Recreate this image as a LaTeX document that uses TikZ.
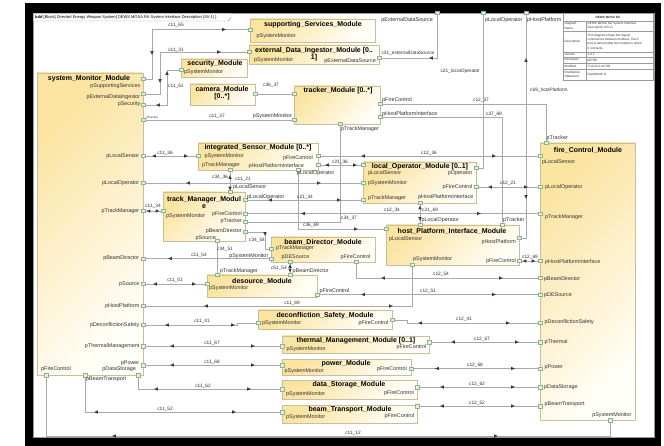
\documentclass[tikz,border=0pt]{standalone}
\usepackage{fontspec}
\setmainfont{Liberation Sans}
\usetikzlibrary{backgrounds}

\definecolor{boxA}{HTML}{FBE3A0}
\definecolor{boxB}{HTML}{FFFEF8}
\definecolor{boxline}{HTML}{C9BE9A}
\definecolor{portfill}{HTML}{E4F2E4}
\definecolor{portline}{HTML}{8CB48C}
\definecolor{connline}{HTML}{A9A9A9}
\definecolor{tipfill}{HTML}{3A3A3A}
\definecolor{labtext}{HTML}{303030}
\definecolor{frameline}{HTML}{9A9A9A}

\tikzset{
  module/.style={draw=boxline, line width=0.5pt, left color=boxA, right color=boxB, shading angle=45, inner sep=0pt},
  mtitle/.style={font=\fontsize{7}{7}\selectfont\bfseries, inner sep=0pt, align=center},
  port/.style={draw=portline, fill=portfill, line width=0.4pt, minimum size=3.4pt, inner sep=0pt},
  plab/.style={font=\fontsize{5.4}{6}\selectfont, text=labtext, inner sep=0pt},
  tinylab/.style={font=\fontsize{3}{3.5}\selectfont, text=labtext, inner sep=0pt},
  clab/.style={font=\fontsize{4.8}{5}\selectfont, text=labtext, inner sep=0pt},
  conn/.style={draw=connline, line width=0.6pt},
  flowtip/.style={fill=tipfill},
  tabline/.style={draw=frameline, line width=0.4pt},
  tabtxt/.style={font=\fontsize{3.1}{4.4}\selectfont, text=labtext, inner sep=0pt, align=left},
}

% flow direction marks placed along connectors
\newcommand\tipR[2]{\fill[flowtip] (#1+1.8,#2) -- (#1-1.8,#2-1.7) -- (#1-1.8,#2+1.7) -- cycle;}
\newcommand\tipL[2]{\fill[flowtip] (#1-1.8,#2) -- (#1+1.8,#2-1.7) -- (#1+1.8,#2+1.7) -- cycle;}
\newcommand\tipU[2]{\fill[flowtip] (#1,#2-1.8) -- (#1-1.7,#2+1.8) -- (#1+1.7,#2+1.8) -- cycle;}
\newcommand\tipD[2]{\fill[flowtip] (#1,#2+1.8) -- (#1-1.7,#2-1.8) -- (#1+1.7,#2-1.8) -- cycle;}

\begin{document}
\begin{tikzpicture}[x=1pt, y=-1pt]
\useasboundingbox (0,0) rectangle (664,446);

% ---------- outer frame ----------
\begin{pgfonlayer}{background}
  \fill[white] (0,0) rectangle (664,446);
  \fill[black] (25,3) rectangle (661,446);
  \fill[white] (33,13) rectangle (655,438);
  \draw[frameline, line width=0.4pt] (33.5,13.5) rectangle (654.5,437.5);
  \draw[frameline, line width=0.4pt, fill=white] (33.5,13.5) -- (231,13.5) -- (231,18) -- (228,21) -- (33.5,21);
\end{pgfonlayer}
\node[anchor=west, inner sep=0pt, font=\fontsize{4}{4.5}\selectfont] (hdr) at (35,17.3)
  {\textbf{bdd} [Block] Directed Energy Weapon System[ DEWS MOSA RA System Interface Description (SV-1) ]};

% ---------- info table ----------
\fill[white] (563,13) rectangle (653,80);
\draw[tabline] (563,13) rectangle (653,80);
\foreach \yy in {21,31,52,57,63,69} \draw[tabline] (563,\yy) -- (653,\yy);
\draw[tabline] (586,21) -- (586,80);
\node[tabtxt, font=\fontsize{3.1}{4.4}\selectfont\bfseries] (tabHead) at (608,17) {DEWS MOSA RA};
\node[tabtxt, anchor=west] (tabL1) at (564.5,26) {Diagram\\Name};
\node[tabtxt, anchor=west] (tabL2) at (564.5,41.5) {Description};
\node[tabtxt, anchor=west] (tabL3) at (564.5,54.5) {Version};
\node[tabtxt, anchor=west] (tabL4) at (564.5,60) {Developer};
\node[tabtxt, anchor=west] (tabL5) at (564.5,66) {Modified};
\node[tabtxt, anchor=west] (tabL6) at (564.5,74.5) {Distribution\\Statement};
\node[tabtxt, anchor=west] (tabR1) at (587.5,26) {DEWS MOSA RA System Interface\\Description (SV-1)};
\node[tabtxt, anchor=west] (tabR2) at (587.5,41.5) {This diagram shows the logical\\connections between modules. Each\\port is named after the module to which\\it connects.};
\node[tabtxt, anchor=west] (tabR3) at (587.5,54.5) {1.0.1};
\node[tabtxt, anchor=west] (tabR4) at (587.5,60) {MITRE};
\node[tabtxt, anchor=west] (tabR5) at (587.5,66) {7/11/22 2:22 PM};
\node[tabtxt, anchor=west] (tabR6) at (587.5,74.5) {Distribution D};

% ---------- modules ----------
\node[module, minimum width=106pt, minimum height=302pt] (sm) at (90,224) {};
\node[mtitle] (smT) at (89,78.5) {system\_Monitor\_Module};
\node[module, minimum width=95pt, minimum height=277pt] (fc) at (587.5,281.5) {};
\node[mtitle] (fcT) at (588,150) {fire\_Control\_Module};
\node[module, minimum width=125pt, minimum height=23pt] (ss) at (312.5,30.5) {};
\node[mtitle] (ssT) at (313,24.5) {supporting\_Services\_Module};
\node[module, minimum width=130pt, minimum height=19pt] (edi) at (314,54.5) {};
\node[mtitle] (ediT) at (314,54.5) {external\_Data\_Ingestor\_Module [0..\\{}1]};
\node[module, minimum width=66pt, minimum height=18pt] (sec) at (214,68) {};
\node[mtitle] (secT) at (215,64) {security\_Module};
\node[module, minimum width=65pt, minimum height=21pt] (cam) at (222.5,94.5) {};
\node[mtitle] (camT) at (222,93.5) {camera\_Module\\{}[0..*]};
\node[module, minimum width=86pt, minimum height=38pt] (tr) at (337,105) {};
\node[mtitle] (trT) at (338,91) {tracker\_Module [0..*]};
\node[module, minimum width=120pt, minimum height=27pt] (is) at (258,156.5) {};
\node[mtitle] (isT) at (258,147.5) {integrated\_Sensor\_Module [0..*]};
\node[module, minimum width=113pt, minimum height=41pt] (lo) at (419.5,182.5) {};
\node[mtitle] (loT) at (420,167) {local\_Operator\_Module [0..1]};
\node[module, minimum width=82pt, minimum height=49pt] (tm) at (204,216.5) {};
\node[mtitle] (tmT) at (204,202.5) {track\_Manager\_Modul\\{}e};
\node[module, minimum width=133pt, minimum height=40pt] (hp) at (452.5,245) {};
\node[mtitle] (hpT) at (452,231.5) {host\_Platform\_Interface\_Module};
\node[module, minimum width=104pt, minimum height=25pt] (bd) at (323,249.5) {};
\node[mtitle] (bdT) at (323,242) {beam\_Director\_Module};
\node[module, minimum width=110pt, minimum height=22pt] (ds) at (262,286) {};
\node[mtitle] (dsT) at (262,281.5) {desource\_Module};
\node[module, minimum width=134pt, minimum height=19pt] (dc) at (325,319.5) {};
\node[mtitle] (dcT) at (325,316) {deconfliction\_Safety\_Module};
\node[module, minimum width=147pt, minimum height=17pt] (th) at (355.5,344.5) {};
\node[mtitle] (thT) at (356,341) {thermal\_Management\_Module [0..1]};
\node[module, minimum width=129pt, minimum height=16pt] (pw) at (346.5,367) {};
\node[mtitle] (pwT) at (346,364) {power\_Module};
\node[module, minimum width=135pt, minimum height=19pt] (dst) at (349.5,389.5) {};
\node[mtitle] (dstT) at (349,385) {data\_Storage\_Module};
\node[module, minimum width=135pt, minimum height=18pt] (bt) at (349.5,414) {};
\node[mtitle] (btT) at (350,409.5) {beam\_Transport\_Module};

% ---------- ports on the system boundary ----------
\node[port] (fEDS) at (437,13) {};
\node[port] (fLO) at (483,13) {};
\node[port] (fHP) at (526,13) {};
\node[plab, anchor=east] (lfEDS) at (433,20) {pExternalDataSource};
\node[plab, anchor=west] (lfLO) at (485,20) {pLocalOperator};
\node[plab, anchor=west] (lfHP) at (527,20) {pHostPlatform};

% ---------- system_Monitor ports ----------
\node[port] (smSS) at (143,79) {};
\node[port] (smEDI) at (143,94) {};
\node[port] (smSec) at (143,105) {};
\node[port] (smTr) at (143,120) {};
\node[port] (smLS) at (143,156) {};
\node[port] (smLO) at (143,183) {};
\node[port] (smTM) at (143,211) {};
\node[port] (smBD) at (143,258.5) {};
\node[port] (smSrc) at (143,284) {};
\node[port] (smHP) at (143,306) {};
\node[port] (smDC) at (143,325) {};
\node[port] (smTh) at (143,346) {};
\node[port] (smPw) at (143,365) {};
\node[port] (smDSt) at (138,375) {};
\node[port] (smBT) at (85,375) {};
\node[port] (smFC) at (46,375) {};
\node[plab, anchor=east] (lsmSS) at (140.5,86) {pSupportingServices};
\node[plab, anchor=east] (lsmEDI) at (140.5,97.5) {pExternalDataIngestor};
\node[plab, anchor=east] (lsmSec) at (140.5,104.5) {pSecurity};
\node[tinylab, anchor=west] (lsmTr) at (146,118) {pTracker};
\node[plab, anchor=east] (lsmLS) at (139.5,156) {pLocalSensor};
\node[plab, anchor=east] (lsmLO) at (139.5,183) {pLocalOperator};
\node[plab, anchor=east] (lsmTM) at (139.5,211) {pTrackManager};
\node[plab, anchor=east] (lsmBD) at (139.5,258) {pBeamDirector};
\node[plab, anchor=east] (lsmSrc) at (139.5,284) {pSource};
\node[plab, anchor=east] (lsmHP) at (139.5,306.5) {pHostPlatform};
\node[plab, anchor=east] (lsmDC) at (139.5,325) {pDeconflictionSafety};
\node[plab, anchor=east] (lsmTh) at (139.5,346.5) {pThermalManagement};
\node[plab, anchor=east] (lsmPw) at (139.5,363) {pPower};
\node[plab, anchor=east] (lsmDSt) at (136,369) {pDataStorage};
\node[plab, anchor=west] (lsmBT) at (86,379.5) {pBeamTransport};
\node[plab, anchor=west] (lsmFC) at (41,369) {pFireControl};

% ---------- fire_Control ports ----------
\node[port] (fcTr) at (546,143) {};
\node[port] (fcLS) at (540,156) {};
\node[port] (fcLO) at (540,187) {};
\node[port] (fcTM) at (540,213.5) {};
\node[port] (fcHPI) at (540,261) {};
\node[port] (fcBD) at (540,278) {};
\node[port] (fcDES) at (540,294.5) {};
\node[port] (fcDC) at (540,323) {};
\node[port] (fcTh) at (540,342) {};
\node[port] (fcPw) at (540,368.5) {};
\node[port] (fcDSt) at (540,387) {};
\node[port] (fcBT) at (540,406) {};
\node[port] (fcSM) at (610,420) {};
\node[plab, anchor=west] (lfcTr) at (546.5,138.5) {pTracker};
\node[plab, anchor=west] (lfcLS) at (542,162) {pLocalSensor};
\node[plab, anchor=west] (lfcLO) at (545,187) {pLocalOperator};
\node[plab, anchor=west] (lfcTM) at (545,217) {pTrackManager};
\node[plab, anchor=west] (lfcHPI) at (545,262) {pHostPlatformInterface};
\node[plab, anchor=west] (lfcBD) at (544,279) {pBeamDirector};
\node[plab, anchor=west] (lfcDES) at (544,295) {pDESource};
\node[plab, anchor=west] (lfcDC) at (544.5,322) {pDeconflictionSafety};
\node[plab, anchor=west] (lfcTh) at (544.5,342) {pThermal};
\node[plab, anchor=west] (lfcPw) at (544.5,367) {pPower};
\node[plab, anchor=west] (lfcDSt) at (544,387) {pDataStorage};
\node[plab, anchor=west] (lfcBT) at (544.5,404) {pBeamTransport};
\node[plab, anchor=east] (lfcSM) at (631.5,415) {pSystemMonitor};

% ---------- ports of the other modules ----------
\node[port] (ssSM) at (250,29.5) {};
\node[plab, anchor=west] (lssSM) at (256.5,36.5) {pSystemMonitor};
\node[port] (ediSM) at (249,52) {};
\node[port] (ediEDS) at (379,58) {};
\node[plab, anchor=west] (lediSM) at (254,60) {pSystemMonitor};
\node[plab, anchor=east] (lediEDS) at (376,61) {pExternalDataSource};
\node[port] (secSM) at (181,70) {};
\node[plab, anchor=west] (lsecSM) at (184,72) {pSystemMonitor};
\node[port] (camTr) at (255,94) {};
\node[port] (trCam) at (294,94) {};
\node[port] (trSM) at (294,120) {};
\node[port] (trFC) at (380,104) {};
\node[port] (trHPI) at (380,117) {};
\node[port] (trTM) at (340,124) {};
\node[plab, anchor=east] (ltrSM) at (292,116.5) {pSystemMonitor};
\node[plab, anchor=west] (ltrFC) at (382,100) {pFireControl};
\node[plab, anchor=west] (ltrHPI) at (382,114) {pHostPlatformInterface};
\node[plab, anchor=west] (ltrTM) at (341,129) {pTrackManager};
\node[port] (isSM) at (198,156) {};
\node[port] (isTM) at (230,170) {};
\node[port] (isFC) at (318,156) {};
\node[port] (isLO) at (318,165) {};
\node[port] (isHPI) at (298,170) {};
\node[plab, anchor=west] (lisSM) at (204.5,156) {pSystemMonitor};
\node[plab, anchor=west] (lisTM) at (202,165.5) {pTrackManager};
\node[plab, anchor=east] (lisFC) at (313,158) {pFireControl};
\node[plab, anchor=west] (lisLO) at (297,173) {pLocalOperator};
\node[plab, anchor=east] (lisHPI) at (304,166) {pHostPlatformInterface};
\node[port] (loLS) at (363,165) {};
\node[port] (loSM) at (363,183) {};
\node[port] (loTM) at (363,200) {};
\node[port] (loOp) at (476,168) {};
\node[port] (loFC) at (476,187) {};
\node[port] (loHPI) at (420,203) {};
\node[plab, anchor=west] (lloLS) at (368,173.5) {pLocalSensor};
\node[plab, anchor=west] (lloSM) at (368,183.5) {pSystemMonitor};
\node[plab, anchor=west] (lloTM) at (368,198) {pTrackManager};
\node[plab, anchor=east] (lloOp) at (472.5,173) {pOperator};
\node[plab, anchor=east] (lloFC) at (472.5,187) {pFireControl};
\node[plab, anchor=west] (lloHPI) at (418,197) {pHostPlatformInterface};
\node[port] (tmSM) at (163,211) {};
\node[port] (tmLS) at (230,192) {};
\node[port] (tmLO) at (245,200) {};
\node[port] (tmFC) at (245,213.5) {};
\node[port] (tmTr) at (245,222) {};
\node[port] (tmBD) at (245,232) {};
\node[port] (tmSrc) at (217,241) {};
\node[plab, anchor=west] (ltmSM) at (166,216) {pSystemMonitor};
\node[plab, anchor=west] (ltmLS) at (233,187) {pLocalSensor};
\node[plab, anchor=west] (ltmLO) at (247,197) {pLocalOperator};
\node[plab, anchor=east] (ltmFC) at (242,214) {pFireControl};
\node[plab, anchor=east] (ltmTr) at (242,221) {pTracker};
\node[plab, anchor=east] (ltmBD) at (242,231) {pBeamDirector};
\node[plab, anchor=east] (ltmSrc) at (216,238) {pSource};
\node[port] (hpLS) at (386,229) {};
\node[port] (hpLO) at (420,225) {};
\node[port] (hpTr) at (502,225) {};
\node[port] (hpHP) at (519,238) {};
\node[port] (hpFC) at (519,261) {};
\node[port] (hpSM) at (412,265) {};
\node[plab, anchor=west] (lhpLS) at (389,239) {pLocalSensor};
\node[plab, anchor=west] (lhpLO) at (421.5,220) {pLocalOperator};
\node[plab, anchor=west] (lhpTr) at (503,220) {pTracker};
\node[plab, anchor=east] (lhpHP) at (516,242) {pHostPlatform};
\node[plab, anchor=east] (lhpFC) at (516,261) {pFireControl};
\node[plab, anchor=west] (lhpSM) at (413,259) {pSystemMonitor};
\node[port] (bdTM) at (271,249) {};
\node[port] (bdSM) at (271,258.5) {};
\node[port] (bdDES) at (290,262) {};
\node[port] (bdFC) at (356,262) {};
\node[plab, anchor=west] (lbdTM) at (276,248.5) {pTrackManager};
\node[plab, anchor=east] (lbdSM) at (268.5,256) {pSystemMonitor};
\node[plab, anchor=west] (lbdDES) at (281.5,257.5) {pDESource};
\node[plab, anchor=east] (lbdFC) at (370.5,257.5) {pFireControl};
\node[port] (dsTM) at (217,275) {};
\node[port] (dsBD) at (290,275) {};
\node[port] (dsSM) at (207,284) {};
\node[port] (dsFC) at (317,294.5) {};
\node[plab, anchor=west] (ldsTM) at (220,271) {pTrackManager};
\node[plab, anchor=west] (ldsBD) at (292.5,271) {pBeamDirector};
\node[plab, anchor=west] (ldsSM) at (209,288.5) {pSystemMonitor};
\node[plab, anchor=west] (ldsFC) at (319.5,291.5) {pFireControl};
\node[port] (dcSM) at (258,323) {};
\node[port] (dcFC) at (392,320) {};
\node[plab, anchor=west] (ldcSM) at (262,323.5) {pSystemMonitor};
\node[plab, anchor=east] (ldcFC) at (388.5,323.5) {pFireControl};
\node[port] (thSM) at (282,346) {};
\node[port] (thFC) at (429,342) {};
\node[plab, anchor=west] (lthSM) at (286.5,349) {pSystemMonitor};
\node[plab, anchor=east] (lthFC) at (426.5,347) {pFireControl};
\node[port] (pwSM) at (282,365) {};
\node[port] (pwFC) at (411,368.5) {};
\node[plab, anchor=west] (lpwSM) at (284.5,371) {pSystemMonitor};
\node[plab, anchor=east] (lpwFC) at (407,369) {pFireControl};
\node[port] (dstSM) at (282,389) {};
\node[port] (dstFC) at (417,387) {};
\node[plab, anchor=west] (ldstSM) at (286,394) {pSystemMonitor};
\node[plab, anchor=east] (ldstFC) at (414,393) {pFireControl};
\node[port] (btSM) at (282,412) {};
\node[port] (btFC) at (417,406) {};
\node[plab, anchor=west] (lbtSM) at (286,417) {pSystemMonitor};
\node[plab, anchor=east] (lbtFC) at (414.5,416) {pFireControl};

% ---------- connectors ----------
\begin{pgfonlayer}{background}
  \draw[conn] (smSS.center) -- ++(9,0) |- (ssSM.center);
  \draw[conn] (smEDI.center) -- ++(17,0) |- (ediSM.center);
  \draw[conn] (smSec.center) -- ++(24,0) |- (secSM.center);
  \draw[conn] (smTr.center) -- (trSM.center);
  \draw[conn] (camTr.center) -- (trCam.center);
  \draw[conn] (ediEDS.center) -| (fEDS.center);
  \draw[conn] (fLO.center) |- (loOp.center);
  \draw[conn] (fHP.center) |- (hpHP.center);
  \draw[conn] (trFC.center) -| (fcTr.center);
  \draw[conn] (trHPI.center) -| (hpTr.center);
  \draw[conn] (isFC.center) -- (fcLS.center);
  \draw[conn] (isLO.center) -- (loLS.center);
  \draw[conn] (smLS.center) -- (isSM.center);
  \draw[conn] (smLO.center) -- (loSM.center);
  \draw[conn] (isTM.center) -- (tmLS.center);
  \draw[conn] (smTM.center) -- (tmSM.center);
  \draw[conn] (tmLO.center) -- (loTM.center);
  \draw[conn] (tmFC.center) -- (fcTM.center);
  \draw[conn] (tmTr.center) -| (trTM.center);
  \draw[conn] (isHPI.center) |- (hpLS.center);
  \draw[conn] (loHPI.center) -- (hpLO.center);
  \draw[conn] (loFC.center) -- (fcLO.center);
  \draw[conn] (hpFC.center) -- (fcHPI.center);
  \draw[conn] (tmBD.center) -- ++(20,0) |- (bdTM.center);
  \draw[conn] (smBD.center) -- (bdSM.center);
  \draw[conn] (tmSrc.center) -- (dsTM.center);
  \draw[conn] (bdDES.center) -- (dsBD.center);
  \draw[conn] (bdFC.center) |- (fcBD.center);
  \draw[conn] (smSrc.center) -- (dsSM.center);
  \draw[conn] (dsFC.center) -- (fcDES.center);
  \draw[conn] (smHP.center) -| (hpSM.center);
  \draw[conn] (smDC.center) -- ++(94,0) |- (dcSM.center);
  \draw[conn] (dcFC.center) -- ++(15,0) |- (fcDC.center);
  \draw[conn] (smTh.center) -- (thSM.center);
  \draw[conn] (thFC.center) -- (fcTh.center);
  \draw[conn] (smPw.center) -- (pwSM.center);
  \draw[conn] (pwFC.center) -- (fcPw.center);
  \draw[conn] (smDSt.center) |- (dstSM.center);
  \draw[conn] (dstFC.center) -- (fcDSt.center);
  \draw[conn] (smBT.center) |- (btSM.center);
  \draw[conn] (btFC.center) -- (fcBT.center);
  \draw[conn] (smFC.center) -- ++(0,61) -| (fcSM.center);

  % flow marks
  \tipD{152}{53} \tipR{224}{29.5}
  \tipD{160}{81} \tipR{219}{52}
  \tipL{158}{105} \tipU{167}{73}
  \tipL{431}{58}
  \tipU{526}{60} \tipD{526}{197}
  \tipL{363}{156} \tipR{494}{156}
  \tipL{327}{165} \tipR{355}{165}
  \tipL{154}{156} \tipR{186}{156}
  \tipL{188}{183} \tipR{319}{183}
  \tipU{230}{177} \tipD{230}{188.5}
  \tipL{148.5}{211} \tipR{157.5}{211}
  \tipL{270}{200} \tipR{339}{200}
  \tipL{303}{213.5} \tipR{479}{213.5}
  \tipR{356}{229}
  \tipU{420}{207.5} \tipD{420}{219}
  \tipL{490}{187} \tipR{526}{187}
  \tipL{524.5}{261} \tipR{533.5}{261}
  \tipD{265}{234}
  \tipL{170}{258.5}
  \tipU{290}{266} \tipD{290}{270.5}
  \tipL{383}{278} \tipR{501}{278}
  \tipL{155}{284} \tipR{194}{284}
  \tipL{363}{294.5} \tipR{494}{294.5}
  \tipL{206}{306} \tipR{391}{306}
  \tipL{167}{325} \tipR{233}{325}
  \tipL{420}{323} \tipR{508}{323}
  \tipL{172}{346} \tipR{253}{346}
  \tipL{453}{342} \tipR{517}{342}
  \tipL{172}{365} \tipR{253}{365}
  \tipL{437}{368.5} \tipR{513}{368.5}
  \tipL{156}{389} \tipR{249}{389}
  \tipL{442}{387} \tipR{513}{387}
  \tipL{96}{412} \tipR{234}{412}
  \tipL{442}{406} \tipR{513}{406}
  \tipL{114}{436} \tipR{496}{436}
\end{pgfonlayer}

% ---------- connector names ----------
\node[clab] (n1) at (176,25) {c11\_65};
\node[clab] (n2) at (176,50) {c11\_31};
\node[clab, anchor=west] (n3) at (168,86) {c11\_61};
\node[clab] (n4) at (217,116.5) {c11\_37};
\node[clab] (n5) at (271,85) {c36\_37};
\node[clab] (n6) at (408,53) {c31\_externalDataSource};
\node[clab, anchor=east] (n7) at (480,71) {c21\_localOperator};
\node[clab, anchor=west] (n8) at (530,90) {c69\_hostPlatform};
\node[clab] (n9) at (481,100.5) {c12\_37};
\node[clab] (n10) at (494,114.5) {c37\_69};
\node[clab] (n11) at (429,153) {c12\_36};
\node[clab] (n12) at (340,162) {c21\_36};
\node[clab] (n13) at (165,153) {c11\_36};
\node[clab] (n14) at (243,179) {c11\_21};
\node[clab] (n15) at (220,177) {c34\_36};
\node[clab] (n16) at (153,206) {c11\_34};
\node[clab] (n17) at (305,197) {c21\_34};
\node[clab] (n18) at (392,210.5) {c12\_34};
\node[clab] (n19) at (349,218.5) {c34\_37};
\node[clab] (n20) at (311,225.5) {c36\_69};
\node[clab, anchor=west] (n21) at (422,210) {c21\_69};
\node[clab] (n22) at (508,183) {c12\_21};
\node[clab] (n23) at (530,257) {c12\_69};
\node[clab] (n24) at (257,240) {c34\_54};
\node[clab] (n25) at (199,255) {c11\_54};
\node[clab] (n26) at (225,249.5) {c34\_51};
\node[clab, anchor=east] (n27) at (287,268.5) {c51\_54};
\node[clab] (n28) at (441,274) {c12\_54};
\node[clab] (n29) at (175,280) {c11\_51};
\node[clab] (n30) at (428,291) {c12\_51};
\node[clab] (n31) at (292,303) {c11\_69};
\node[clab] (n32) at (202,321) {c11\_41};
\node[clab] (n33) at (464,319) {c12\_41};
\node[clab] (n34) at (212,343) {c11\_67};
\node[clab] (n35) at (482,339) {c12\_67};
\node[clab] (n36) at (212,362) {c11\_68};
\node[clab] (n37) at (475,365) {c12\_68};
\node[clab] (n38) at (203,386) {c11\_62};
\node[clab] (n39) at (477,384) {c12\_62};
\node[clab] (n40) at (165,409) {c11\_52};
\node[clab] (n41) at (477,403) {c12\_52};
\node[clab] (n42) at (353,433) {c11\_12};
\end{tikzpicture}
\end{document}
